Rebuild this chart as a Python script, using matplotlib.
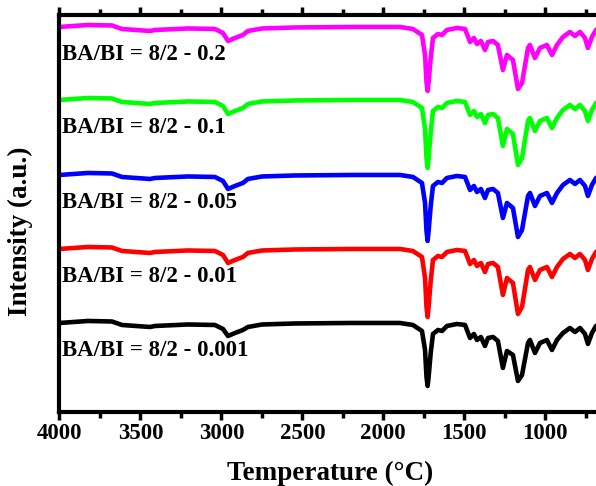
import matplotlib
matplotlib.use('Agg')
from matplotlib import pyplot as plt
from matplotlib.ticker import MultipleLocator
import numpy as np

# wavenumber grid (shared by all traces)
wavenumber = [4000, 3824, 3676, 3614, 3441, 3410, 3206, 3040, 2990, 2959, 2916, 2867,
              2836, 2749, 2545, 2200, 1897, 1817, 1761, 1742, 1733, 1726, 1720, 1707,
              1693, 1662, 1637, 1607, 1545, 1495, 1464, 1440, 1421, 1397, 1372, 1353,
              1322, 1292, 1261, 1236, 1199, 1168, 1143, 1106, 1094, 1063, 1032, 989,
              958, 927, 890, 847, 816, 785, 754, 736, 711, 686, 650]

# relative intensity of each trace (dips below its own baseline)
s_0001 = [0, 2, 1.5, -2, -4, -3, -1.5, -2, -6, -13, -10, -7, -4, -1.5, -0.5, 0, 0,
          -2, -8, -27, -54, -63, -54, -30, -11, -7, -8, -3, -1, -2, -15, -11, -17, -14,
          -23, -15, -14, -18, -45, -28, -32, -58, -52, -20, -17, -30, -20, -17, -27,
          -17, -10, -5, -9, -5, -11, -21, -10, -3, 0]
s_001 = [0, 2, 1.5, -2, -4, -3, -1.5, -2, -6, -14, -11, -8, -4, -1.5, -0.5, 0, 0,
         -2, -8, -29, -58, -68, -58, -32, -11, -7, -8, -3, -1, -2, -15, -11, -17, -14,
         -23, -15, -14, -18, -46, -29, -34, -65, -58, -21, -18, -31, -21, -18, -28,
         -18, -10, -5, -9, -5, -11, -21, -10, -3, 0]
s_005 = [0, 2, 1.5, -2, -4, -3, -1.5, -2, -6, -14, -11, -8, -4, -1.5, -0.5, 0, 0,
         -2, -8, -28, -56, -66, -56, -31, -11, -7, -8, -3, -1, -2, -15, -11, -17, -14,
         -23, -15, -14, -18, -43, -28, -33, -62, -55, -21, -18, -31, -21, -18, -28,
         -18, -10, -5, -9, -5, -11, -21, -10, -3, 0]
s_01 = [0, 2, 1.5, -2, -4, -3, -1.5, -2, -6, -14, -11, -8, -4, -1.5, -0.5, 0, 0,
        -2, -8, -29, -58, -68, -58, -32, -11, -7, -8, -3, -1, -2, -15, -11, -17, -14,
        -23, -15, -14, -18, -46, -29, -34, -65, -58, -21, -18, -31, -21, -18, -28,
        -18, -10, -5, -9, -5, -11, -21, -10, -3, 0]
s_02 = [0, 2, 1.5, -2, -4, -3, -1.5, -2, -6, -14, -11, -8, -4, -1.5, -0.5, 0, 0,
        -2, -8, -28, -55, -64, -55, -31, -11, -7, -8, -3, -1, -2, -15, -11, -17, -14,
        -23, -15, -14, -18, -43, -28, -33, -62, -56, -21, -18, -31, -21, -18, -28,
        -18, -10, -5, -9, -5, -11, -21, -10, -3, 0]

series = [s_0001, s_001, s_005, s_01, s_02]
labels = ['BA/BI = 8/2 - 0.001', 'BA/BI = 8/2 - 0.01', 'BA/BI = 8/2 - 0.05',
          'BA/BI = 8/2 - 0.1', 'BA/BI = 8/2 - 0.2']
colors = ['#000000', '#ff0000', '#0000ff', '#00ff00', '#ff00ff']

# vertical stacking of the traces
offsets = [89, 163, 237, 312, 385]

plt.rcParams['font.family'] = ['Liberation Serif', 'DejaVu Serif']
plt.rcParams['font.weight'] = 'bold'

fig = plt.figure(figsize=(5.96, 4.86), dpi=100)
ax = fig.add_axes([0.0998, 0.1523, 0.9002, 0.8169])

for vals, lab, col, off in zip(series, labels, colors, offsets):
    ax.plot(wavenumber, np.array(vals) + off, color=col, lw=3.3, solid_joinstyle='round')
    ax.text(3985, off - 28, lab, color='black', fontsize=16.5, fontweight='bold',
            ha='left', va='center')

ax.set_xlim(4000, 686)
ax.set_ylim(0, 397)

for s in ['left', 'bottom', 'top']:
    ax.spines[s].set_linewidth(3)
ax.spines['right'].set_visible(False)

ax.xaxis.set_major_locator(MultipleLocator(500))
ax.xaxis.set_minor_locator(MultipleLocator(250))
ax.yaxis.set_major_locator(MultipleLocator(28.7))
ax.tick_params(axis='x', which='major', direction='out', length=6, width=2.5,
               labelsize=16.5, pad=2, top=True)
ax.tick_params(axis='x', which='minor', direction='out', length=4, width=2.5, top=True)
ax.tick_params(axis='y', which='major', direction='inout', length=3, width=1.5,
               labelleft=False)
for t in ax.get_xticklabels():
    t.set_fontweight('bold')

ax.set_xlabel('Temperature (°C)', fontsize=19.5, fontweight='bold')
ax.xaxis.set_label_coords(0.504, -0.122)
ax.set_ylabel('Intensity (a.u.)', fontsize=19.5, fontweight='bold')
ax.yaxis.set_label_coords(-0.05, 0.456)

fig.savefig('out.png', dpi=100)
